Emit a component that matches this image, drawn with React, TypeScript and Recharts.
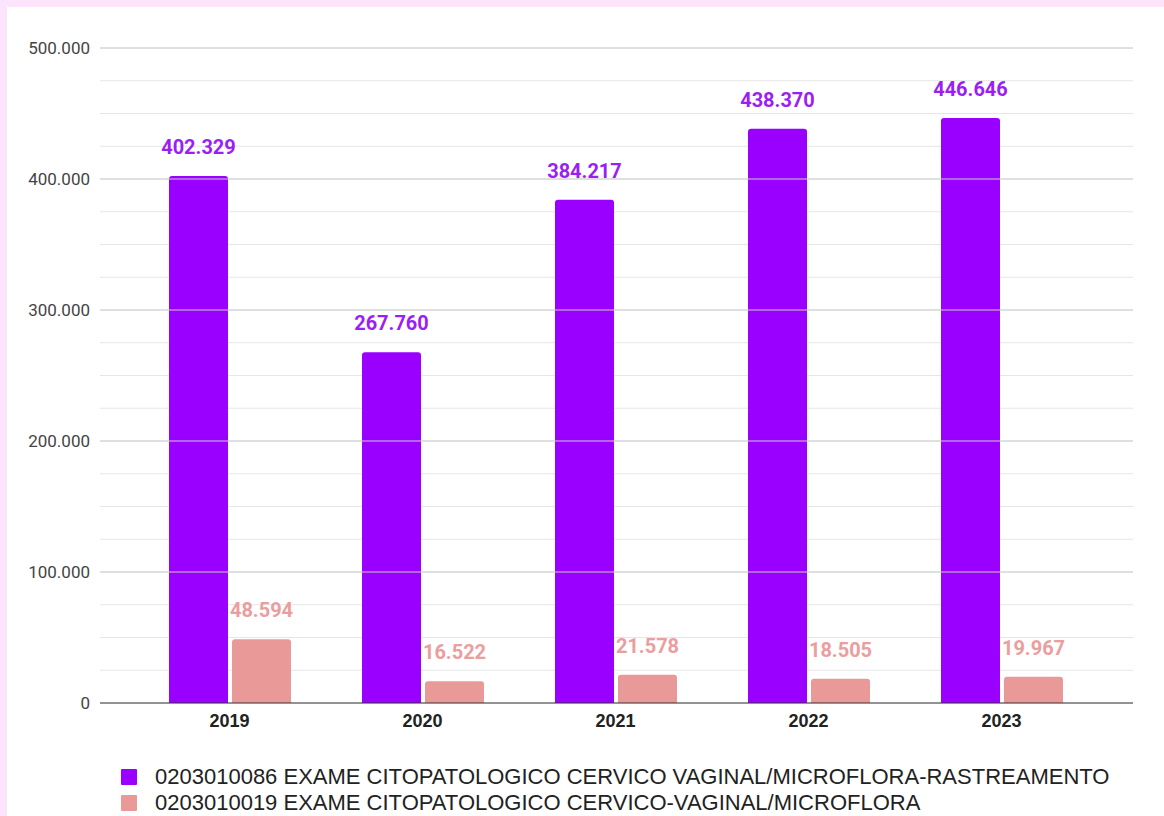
import React from "react";
import {
	Bar,
	BarChart,
	CartesianGrid,
	LabelList,
	Legend,
	ReferenceLine,
	XAxis,
	YAxis,
} from "recharts";

const years = ["2019", "2020", "2021", "2022", "2023"];
const rastreamento = [402329, 267760, 384217, 438370, 446646];
const microflora = [48594, 16522, 21578, 18505, 19967];
const yTicks = [
	0, 25000, 50000, 75000, 100000, 125000, 150000, 175000, 200000, 225000,
	250000, 275000, 300000, 325000, 350000, 375000, 400000, 425000, 450000,
	475000, 500000,
];
const majorTicks = [100000, 200000, 300000, 400000, 500000];

const seriesNames = [
	"0203010086 EXAME CITOPATOLOGICO CERVICO VAGINAL/MICROFLORA-RASTREAMENTO",
	"0203010019 EXAME CITOPATOLOGICO CERVICO-VAGINAL/MICROFLORA",
];
const colors = ["#9900ff", "#ea9999"];

const data = years.map((year, i) => ({
	year,
	rastreamento: rastreamento[i],
	microflora: microflora[i],
}));

// thousands with a dot, pt-BR style
const fmt = (v: number) => String(v).replace(/\B(?=(\d{3})+(?!\d))/g, ".");

function LegendBox() {
	return (
		<div
			style={{
				height: 83,
				paddingTop: 31,
				boxSizing: "border-box",
				paddingLeft: 114,
				fontFamily: "'Liberation Sans', Arial, sans-serif",
				fontSize: 22,
				color: "#222",
			}}
		>
			{seriesNames.map((name, i) => (
				<div
					key={name}
					style={{ height: 26, display: "flex", alignItems: "center" }}
				>
					<span
						style={{
							width: 16,
							height: 16,
							background: colors[i],
							borderRadius: 1,
							marginRight: 18,
							display: "inline-block",
							flexShrink: 0,
						}}
					/>
					<span style={{ whiteSpace: "nowrap" }}>{name}</span>
				</div>
			))}
		</div>
	);
}

export default function App() {
	return (
		<div
			style={{
				position: "absolute",
				left: 0,
				top: 0,
				width: 1164,
				height: 816,
				background: "#fce4fc",
				overflow: "hidden",
			}}
		>
			<div
				style={{
					position: "absolute",
					left: 7,
					top: 7,
					width: 1157,
					height: 809,
					background: "#ffffff",
				}}
			>
				<BarChart
					width={1157}
					height={809}
					data={data}
					margin={{ top: 41, right: 31, bottom: 0, left: 0 }}
					barSize={59}
					barGap={4}
					style={{ fontFamily: "Roboto, Arial, sans-serif" }}
				>
					<CartesianGrid vertical={false} stroke="#e6e6e6" />
					{majorTicks.map((t) => (
						<ReferenceLine key={t} y={t} stroke="#cccccc" />
					))}
					<XAxis
						dataKey="year"
						padding={{ left: 33, right: 35 }}
						height={30}
						tickLine={false}
						tickSize={0}
						tickMargin={11}
						axisLine={{ stroke: "#333333", strokeWidth: 1 }}
						tick={{
							fill: "#222",
							fontSize: 18,
							fontWeight: 700,
							fontFamily: "'Liberation Sans', Arial, sans-serif",
						}}
					/>
					<YAxis
						width={93}
						domain={[0, 500000]}
						ticks={yTicks}
						interval={0}
						tickLine={false}
						axisLine={false}
						tickSize={0}
						tickMargin={10}
						tick={{ fill: "#444", fontSize: 17 }}
						tickFormatter={(v: number) => (v % 100000 === 0 ? fmt(v) : "")}
					/>
					<Legend verticalAlign="bottom" content={() => <LegendBox />} />
					<Bar
						dataKey="rastreamento"
						name={seriesNames[0]}
						fill={colors[0]}
						radius={[3, 3, 0, 0]}
						isAnimationActive={false}
					>
						<LabelList
							dataKey="rastreamento"
							position="top"
							offset={22}
							formatter={(v: number) => fmt(v)}
							style={{ fill: "#9b1ff5", fontSize: 20, fontWeight: 700 }}
						/>
					</Bar>
					<Bar
						dataKey="microflora"
						name={seriesNames[1]}
						fill={colors[1]}
						radius={[3, 3, 0, 0]}
						isAnimationActive={false}
					>
						<LabelList
							dataKey="microflora"
							position="top"
							offset={22}
							formatter={(v: number) => fmt(v)}
							style={{ fill: "#eb9e9e", fontSize: 20, fontWeight: 700 }}
						/>
					</Bar>
				</BarChart>
			</div>
		</div>
	);
}
